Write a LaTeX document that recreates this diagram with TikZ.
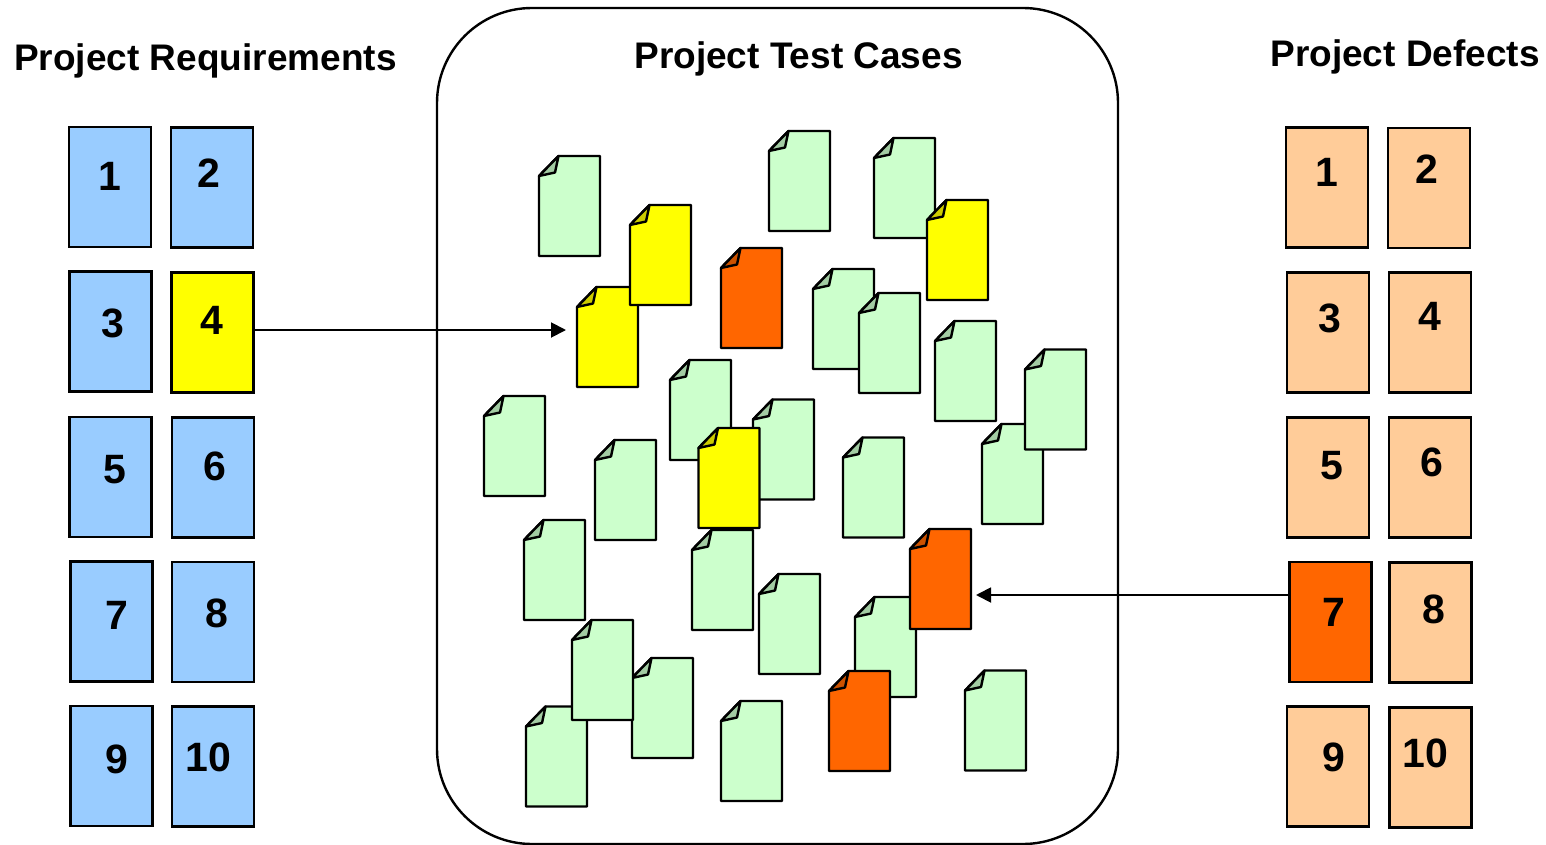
\documentclass[tikz,border=0pt]{standalone}
\usepackage{fontspec}
\setmainfont{Liberation Sans}
\usetikzlibrary{arrows.meta}
\definecolor{reqblue}{HTML}{99CCFF}
\definecolor{defpeach}{HTML}{FFCC99}
\definecolor{hitorange}{HTML}{FF6600}
\definecolor{hityellow}{HTML}{FFFF00}
\definecolor{casegreen}{HTML}{CCFFCC}
\tikzset{
    itembox/.style={draw=black, line width=2.4pt, minimum width=82pt, minimum height=120pt, inner sep=0pt},
    itemnum/.style={font=\fontsize{41}{41}\selectfont\bfseries, inner sep=0pt},
    heading/.style={font=\fontsize{37}{37}\selectfont\bfseries, inner sep=0pt, anchor=base},
    casepage/.style={draw=black, line width=2.4pt, line join=round},
    caseframe/.style={minimum width=61pt, minimum height=100pt, inner sep=0pt, outer sep=0pt},
    flow/.style={line width=1.9pt, -{Triangle[length=15pt, width=15pt]}}
}
\begin{document}
\begin{tikzpicture}[x=1pt, y=-1pt]
    \useasboundingbox (0,0) rectangle (1546,845);

    \node[draw=black, line width=2.4pt, rounded corners=95pt, minimum width=681pt, minimum height=836pt, inner sep=0pt] (pool) at (777.5,426) {};

    \node[heading] (reqtitle) at (205.5,70.7) {Project Requirements};
    \node[heading] (pooltitle) at (798.5,68.7) {Project Test Cases};
    \node[heading] (deftitle) at (1405,66.7) {Project Defects};

    % requirements
    \foreach \n/\x/\y/\tx/\ty/\c in {
        1/110/187/109.5/176.5/reqblue, 2/212/187.5/208.5/173.5/reqblue,
        3/110.5/331.5/112.5/323.5/reqblue, 4/212.5/332.5/211.5/320.5/hityellow,
        5/110.5/477/114.5/469.5/reqblue, 6/213/477.5/214.5/466.5/reqblue,
        7/111.5/621.5/116.5/615.5/reqblue, 8/213/622/216.5/613.5/reqblue,
        9/111.5/766/116.5/759.5/reqblue, 10/213/766.5/208.5/757.5/reqblue} {
        \node[itembox, fill=\c] (req\n) at (\x,\y) {};
        \node[itemnum] (reqnum\n) at (\tx,\ty) {\n};
    }

    % defects
    \foreach \n/\x/\y/\tx/\ty/\c in {
        1/1327/187.5/1326.5/172.5/defpeach, 2/1429/188/1426.5/169.5/defpeach,
        3/1328/332.5/1329.5/318.5/defpeach, 4/1430/332.5/1429.5/316.5/defpeach,
        5/1328/477.5/1331.5/465.5/defpeach, 6/1430/477.5/1431.5/462.5/defpeach,
        7/1330.5/622/1333.5/612.5/hitorange, 8/1430.5/622.5/1433.5/609.5/defpeach,
        9/1328/766.5/1333.5/757.5/defpeach, 10/1430.5/767.5/1425.5/753.5/defpeach} {
        \node[itembox, fill=\c] (def\n) at (\x,\y) {};
        \node[itemnum] (defnum\n) at (\tx,\ty) {\n};
    }

    % test cases, back to front
    \foreach \n/\x/\y/\c in {
        a/539/156/casegreen, b/769/131/casegreen, c/874/138/casegreen,
        d/927/200/hityellow, e/577/287/hityellow, f/630/205/hityellow,
        g/721/248/hitorange, h/813/269/casegreen, i/859/293/casegreen,
        j/935/321/casegreen, k/982/424/casegreen, l/1025/349.5/casegreen,
        m/670/360/casegreen, n/753/399.5/casegreen, o/698.5/428/hityellow,
        p/484/396/casegreen, q/595/440/casegreen, r/843/437.5/casegreen,
        s/524/520/casegreen, t/692/530/casegreen, u/759/574/casegreen,
        v/855/597/casegreen, w/910/529/hitorange, x/829/671/hitorange,
        y/965/670.5/casegreen, z/526/706.5/casegreen, aa/632/658/casegreen,
        ab/572/620/casegreen, ac/721/701/casegreen} {
        \node[caseframe] (case\n) at (\x+30.5,\y+50) {};
        \draw[casepage, fill=\c] (\x+19.5,\y) -- (\x+61,\y) -- (\x+61,\y+100) -- (\x,\y+100) -- (\x,\y+20) -- cycle;
        \draw[casepage, fill=\c!80!black] (\x+19.5,\y) -- (\x+16,\y+16.5) -- (\x,\y+20) -- cycle;
    }

    \draw[flow, shorten >=11pt] (req4.east |- 0,330) -- (casee.west |- 0,330);
    \draw[flow, shorten >=5pt, shorten <=-2pt] (def7.west |- 0,595) -- (casew.east |- 0,595);
\end{tikzpicture}
\end{document}
